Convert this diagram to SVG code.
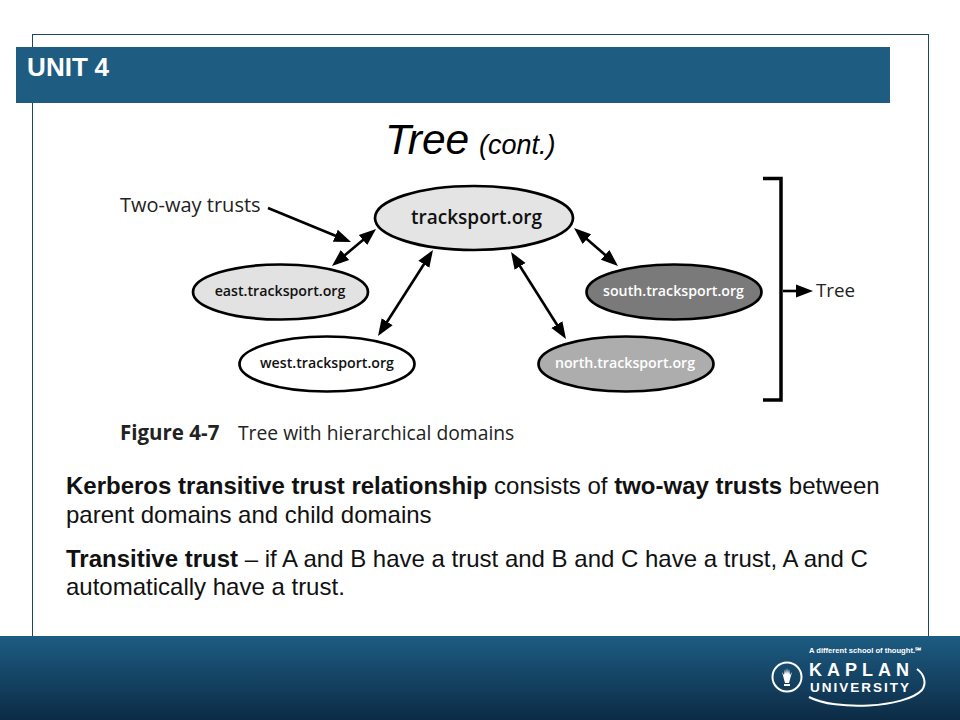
<svg xmlns="http://www.w3.org/2000/svg" width="960" height="720" viewBox="0 0 960 720">
<style>
.body{font-family:"Liberation Sans",Arial,sans-serif;font-size:24px;fill:#111}
.b{font-weight:700}
.fig{font-family:"Open Sans","Noto Sans",sans-serif;fill:#222}
.n{stroke:#000;stroke-width:2.700}
.nt{font-family:"Open Sans","Noto Sans",sans-serif;font-weight:600;font-size:14.200px;text-anchor:middle}
.c{stroke:#000;stroke-width:2.600;fill:none}
.logo{font-family:"Liberation Sans",Arial,sans-serif;fill:#fff}
</style>
<defs>
<marker id="a" markerUnits="userSpaceOnUse" markerWidth="18" markerHeight="16" viewBox="0 0 18 16" refX="12" refY="8" orient="auto-start-reverse"><path d="M0 1.500L17 8L0 14.500Z" fill="#000"/></marker>
<linearGradient id="foot" x1="0" y1="0" x2="0" y2="1"><stop offset="0" stop-color="#1d5c83"/><stop offset="1" stop-color="#0c2b45"/></linearGradient>
</defs>
<rect width="960" height="720" fill="#fff"/>
<rect x="32.500" y="34.500" width="896" height="620" fill="none" stroke="#1d4763" stroke-width="1"/>
<rect x="16" y="47" width="874" height="56" fill="#1e5c82"/>
<text x="27" y="76" font-family="Liberation Sans,Arial,sans-serif" font-weight="700" font-size="26" word-spacing="-1" letter-spacing="0.100" fill="#fff">UNIT 4</text>
<rect y="636" width="960" height="84" fill="url(#foot)"/>
<text x="385" y="154" font-family="Liberation Sans,Arial,sans-serif" font-style="italic" font-size="42.500" fill="#000">Tree</text>
<text x="479" y="154" font-family="Liberation Sans,Arial,sans-serif" font-style="italic" font-size="27" fill="#000">(cont.)</text>
<g id="connectors">
<line class="c" x1="372.200" y1="232.200" x2="335.800" y2="262.800" marker-start="url(#a)" marker-end="url(#a)"/>
<line class="c" x1="430.300" y1="254.200" x2="380.700" y2="331.800" marker-start="url(#a)" marker-end="url(#a)"/>
<line class="c" x1="577.800" y1="231.300" x2="614.200" y2="262.700" marker-start="url(#a)" marker-end="url(#a)"/>
<line class="c" x1="513.700" y1="256.200" x2="563.300" y2="334.800" marker-start="url(#a)" marker-end="url(#a)"/>
<line class="c" x1="268" y1="208" x2="346.400" y2="240.200" marker-end="url(#a)"/>
<line class="c" x1="783" y1="291" x2="808" y2="291" marker-end="url(#a)"/>
<path d="M763 178.500H781V400H763" fill="none" stroke="#000" stroke-width="3.500"/>
</g>
<g id="root"><ellipse class="n" cx="474" cy="218" rx="99" ry="32" fill="#e4e4e4"/><text class="nt" x="476.500" y="224" style="font-size:19px;fill:#111">tracksport.org</text></g>
<g id="east"><ellipse class="n" cx="280.500" cy="292" rx="87.500" ry="27.500" fill="#e2e2e2"/><text class="nt" x="280" y="296" fill="#111">east.tracksport.org</text></g>
<g id="west"><ellipse class="n" cx="327" cy="364" rx="87.500" ry="27.500" fill="#fff"/><text class="nt" x="327" y="368" fill="#111">west.tracksport.org</text></g>
<g id="south"><ellipse class="n" cx="674" cy="292" rx="87.500" ry="27.500" fill="#7a7a7a"/><text class="nt" x="673.500" y="296" fill="#fff">south.tracksport.org</text></g>
<g id="north"><ellipse class="n" cx="626" cy="364" rx="87.500" ry="27.500" fill="#adadad"/><text class="nt" x="625" y="368" fill="#fff">north.tracksport.org</text></g>
<text class="fig" x="120" y="212" font-size="20">Two-way trusts</text>
<text class="fig" x="816" y="297" font-size="18.800">Tree</text>
<text class="fig" x="120" y="440" font-size="20.500" font-weight="700" fill="#111">Figure 4-7</text>
<text class="fig" x="238" y="440" font-size="19.300">Tree with hierarchical domains</text>
<text class="body" x="66" y="494"><tspan class="b">Kerberos transitive trust relationship</tspan> consists of <tspan class="b">two-way trusts</tspan> between</text>
<text class="body" x="66" y="523">parent domains and child domains</text>
<text class="body" x="66" y="567"><tspan class="b">Transitive trust</tspan> – if A and B have a trust and B and C have a trust, A and C</text>
<text class="body" x="66" y="595">automatically have a trust.</text>
<g id="logo">
<text class="logo" x="809" y="653" font-size="7.600" font-weight="700">A different school of thought.℠</text>
<text class="logo" x="809" y="675.500" font-size="18" font-weight="700" letter-spacing="5">KAPLAN</text>
<text class="logo" x="810" y="692" font-size="13.500" font-weight="700" letter-spacing="2">UNIVERSITY</text>
<circle cx="787" cy="677" r="14.500" fill="none" stroke="#fff" stroke-width="2"/>
<path d="M784 684h6v2h-6zM785 683l-3-11 2 3 1-6 1 5 1-6 1 6 1-5 1 6 2-3-3 11z" fill="#fff"/>
<path d="M809 697C835 711 905 708 922 690C927 683 924 674 917 669" fill="none" stroke="#fff" stroke-width="2"/>
</g>
</svg>
